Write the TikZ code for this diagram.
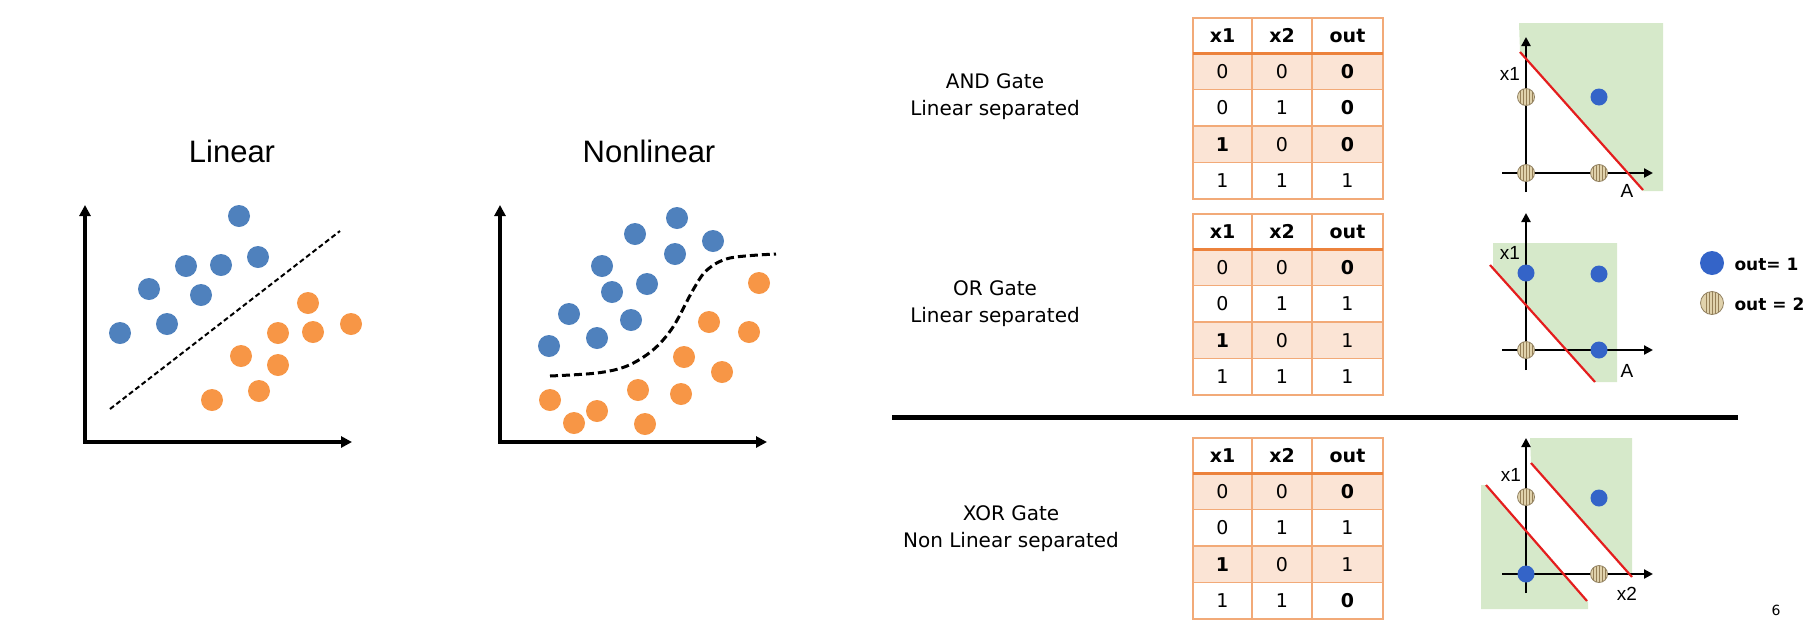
\documentclass[tikz,border=0pt]{standalone}
\usepackage{fontspec}
\setmainfont{DejaVu Sans}
\newfontfamily\arialf{Liberation Sans}
\usetikzlibrary{arrows.meta}
\definecolor{dblue}{RGB}{79,129,189}
\definecolor{dorange}{RGB}{247,150,70}
\definecolor{sblue}{RGB}{52,100,200}
\definecolor{hatfill}{RGB}{224,210,172}
\definecolor{hatline}{RGB}{150,128,88}
\definecolor{tborder}{RGB}{242,170,120}
\definecolor{thead}{RGB}{236,130,60}
\definecolor{rowfill}{RGB}{251,228,213}
\definecolor{lgreen}{RGB}{214,233,202}
\definecolor{rline}{RGB}{228,30,30}
\newcommand{\truthtab}[6]{%
  \begin{scope}[shift={(0,#2)}]
    \fill[rowfill] (1193,35) rectangle (1383,71.5);
    \fill[rowfill] (1193,108) rectangle (1383,144.5);
    \draw[tabline] (1193,0) rectangle (1383,181);
    \foreach \yy in {71.5,108,144.5} \draw[tabline] (1193,\yy) -- (1383,\yy);
    \draw[tabline] (1252,0) -- (1252,181);
    \draw[tabline] (1312,0) -- (1312,181);
    \draw[headline] (1193,35) -- (1383,35);
    \node[cell] (#1h1) at (1222.5,17.5) {\bfseries x1};
    \node[cell] (#1h2) at (1282,17.5) {\bfseries x2};
    \node[cell] (#1h3) at (1347.5,17.5) {\bfseries out};
    \node[cell] (#1a1) at (1222.5,53.25) {0};
    \node[cell] (#1a2) at (1282,53.25) {0};
    \node[cell] (#1a3) at (1347.5,53.25) {#3};
    \node[cell] (#1b1) at (1222.5,89.75) {0};
    \node[cell] (#1b2) at (1282,89.75) {1};
    \node[cell] (#1b3) at (1347.5,89.75) {#4};
    \node[cell] (#1c1) at (1222.5,126.25) {\bfseries 1};
    \node[cell] (#1c2) at (1282,126.25) {0};
    \node[cell] (#1c3) at (1347.5,126.25) {#5};
    \node[cell] (#1d1) at (1222.5,162.75) {1};
    \node[cell] (#1d2) at (1282,162.75) {1};
    \node[cell] (#1d3) at (1347.5,162.75) {#6};
  \end{scope}}
\begin{document}
\begin{tikzpicture}[x=1pt,y=-1pt,
  bigblue/.style={circle,fill=dblue,minimum size=22pt,inner sep=0pt},
  bigorange/.style={circle,fill=dorange,minimum size=22pt,inner sep=0pt},
  bigaxis/.style={line width=4pt,line join=miter,{Triangle[length=11pt,width=11pt]}-{Triangle[length=11pt,width=11pt]}},
  smallaxis/.style={line width=2.2pt,-{Triangle[length=9pt,width=9pt]}},
  dashline/.style={line width=2pt,dash pattern=on 5pt off 3pt},
  dashcurve/.style={line width=3pt,dash pattern=on 8pt off 4pt},
  redline/.style={line width=2.2pt,rline},
  sdot/.style={circle,fill=sblue,minimum size=17pt,inner sep=0pt},
  hdot/.style={circle,fill=hatfill,draw=hatline!80!gray,line width=0.8pt,minimum size=17pt,inner sep=0pt,
    path picture={\foreach \d in {-6,-3,0,3,6} \draw[hatline,line width=0.9pt] ([xshift=\d pt]path picture bounding box.north) -- ([xshift=\d pt]path picture bounding box.south);}},
  title/.style={font=\arialf\fontsize{31}{37}\selectfont,anchor=base},
  gate/.style={font=\fontsize{20}{27}\selectfont,align=center},
  cell/.style={font=\fontsize{19}{22}\selectfont},
  tabline/.style={draw=tborder,line width=1.6pt},
  headline/.style={draw=thead,line width=3pt},
  axlab/.style={font=\arialf\fontsize{19}{22}\selectfont},
  legtext/.style={font=\bfseries\fontsize{17}{20}\selectfont,anchor=west}
]
\useasboundingbox (0,0) rectangle (1813,630);

% ---------- Linear ----------
\node[title] (tlin) at (232,162) {Linear};
\draw[bigaxis] (85,205) -- (85,442) -- (352,442);
\draw[dashline] (110,409) -- (340,231);
\foreach \x/\y [count=\i] in {239/216,258/257,221/265,186/266,149/289,201/295,167/324,120/333}
  \node[bigblue] (lb\i) at (\x,\y) {};
\foreach \x/\y [count=\i] in {308/303,351/324,313/332,278/333,241/356,278/365,259/391,212/400}
  \node[bigorange] (lo\i) at (\x,\y) {};

% ---------- Nonlinear ----------
\node[title] (tnon) at (649,162) {Nonlinear};
\draw[bigaxis] (500,205) -- (500,442) -- (767,442);
\draw[dashcurve] plot[smooth,tension=0.55] coordinates {(550,376) (597,373) (627,366) (653,350) (673,327) (693,290) (707,270) (730,258) (776,254)};
\foreach \x/\y [count=\i] in {677/218,635/234,713/241,675/254,602/266,647/284,612/292,569/314,631/320,597/338,549/346}
  \node[bigblue] (nb\i) at (\x,\y) {};
\foreach \x/\y [count=\i] in {759/283,709/322,749/332,684/357,722/372,550/400,638/390,681/394,597/411,574/423,645/424}
  \node[bigorange] (no\i) at (\x,\y) {};

% ---------- Gate labels ----------
\node[gate] (gand) at (995,97) {AND Gate\\Linear separated};
\node[gate] (gor) at (995,304) {OR Gate\\Linear separated};
\node[gate] (gxor) at (1011,529) {XOR Gate\\Non Linear separated};

% ---------- Tables ----------
\truthtab{and}{18}{\bfseries 0}{\bfseries 0}{\bfseries 0}{1}
\truthtab{or}{214}{\bfseries 0}{1}{1}{1}
\truthtab{xor}{438}{\bfseries 0}{1}{1}{\bfseries 0}

% ---------- AND plot ----------
\fill[lgreen] (1519,23) -- (1663,23) -- (1663,191) -- (1643,191) -- (1520,52) -- cycle;
\draw[smallaxis] (1526,192) -- (1526,37);
\draw[smallaxis] (1502,173) -- (1653,173);
\draw[redline] (1520,52) -- (1643,190);
\node[hdot] (ap1) at (1526,97) {};
\node[hdot] (ap2) at (1526,173) {};
\node[hdot] (ap3) at (1599,173) {};
\node[sdot] (ap4) at (1599,97) {};
\node[axlab] (andx1) at (1510,74) {x1};
\node[axlab] (andA) at (1627,191) {A};

% ---------- OR plot ----------
\fill[lgreen] (1493,243) -- (1617,243) -- (1617,382) -- (1595,382) -- (1493,268) -- cycle;
\draw[smallaxis] (1526,370) -- (1526,213);
\draw[smallaxis] (1502,350) -- (1653,350);
\draw[redline] (1490,265) -- (1595,382);
\node[sdot] (op1) at (1526,273) {};
\node[sdot] (op2) at (1599,274) {};
\node[hdot] (op3) at (1526,350) {};
\node[sdot] (op4) at (1599,350) {};
\node[axlab] (orx1) at (1510,253) {x1};
\node[axlab] (orA) at (1627,371) {A};

% ---------- Legend ----------
\node[sdot,minimum size=24pt] (leg1) at (1712,263) {};
\node[legtext] (legt1) at (1731,264) {out= 1};
\node[hdot,minimum size=23pt] (leg2) at (1712,303) {};
\node[legtext] (legt2) at (1731,304) {out = 2};

% ---------- Separator ----------
\draw[line width=5pt] (892,417) -- (1738,417);

% ---------- XOR plot ----------
\fill[lgreen] (1530,438) -- (1632,438) -- (1632,577) -- (1531,463) -- cycle;
\fill[lgreen] (1481,485) -- (1486,485) -- (1588,602) -- (1588,609) -- (1481,609) -- cycle;
\draw[smallaxis] (1526,593) -- (1526,438);
\draw[smallaxis] (1502,574) -- (1653,574);
\draw[redline] (1531,463) -- (1632,577);
\draw[redline] (1486,485) -- (1587,601);
\node[hdot] (xp1) at (1526,497) {};
\node[hdot] (xp2) at (1599,574) {};
\node[sdot] (xp3) at (1526,574) {};
\node[sdot] (xp4) at (1599,498) {};
\node[axlab] (xorx1) at (1511,475) {x1};
\node[axlab] (xorx2) at (1627,594) {x2};

\node[font=\fontsize{14}{16}\selectfont] (pg) at (1776,610) {6};
\end{tikzpicture}
\end{document}
